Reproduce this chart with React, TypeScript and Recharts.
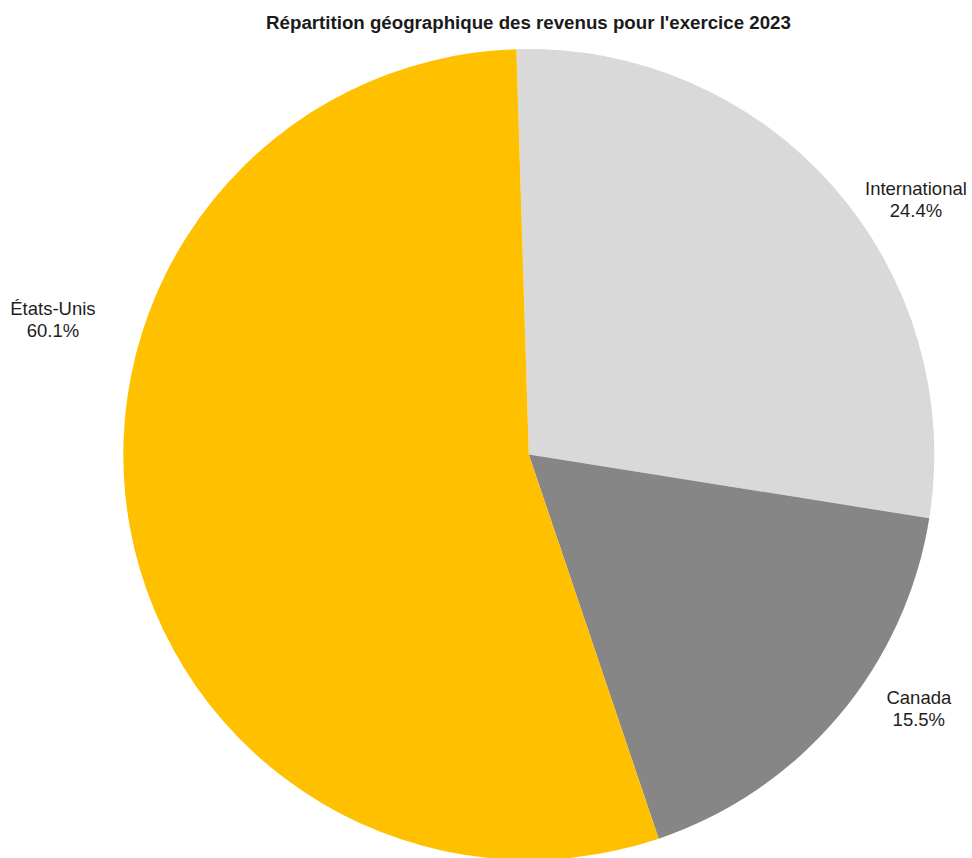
import React from 'react';
import { PieChart, Pie, Cell } from 'recharts';

// Categories, in clockwise drawing order starting just left of 12 o'clock
const regions = ['International', 'Canada', 'États-Unis'];
// Slice shares as drawn in the picture (measured from the slice angles)
const sliceShares = [28.0, 17.3, 54.7];
// Percentages printed in the labels of the picture
const labelPercents = ['24.4%', '15.5%', '60.1%'];
const colors = ['#D9D9D9', '#868686', '#FFC000'];
const title = "Répartition géographique des revenus pour l'exercice 2023";

const data = regions.map((name, i) => ({ name, value: sliceShares[i], pct: labelPercents[i] }));

const W = 972;
const H = 858;
const CX = 528.8;
const CY = 454.5;
const R = 405.5;
const START = 91.76;
const LABEL_FONT = 18.5;
const FONT = "'Liberation Sans', Arial, sans-serif";
// label layout relative to the slice mid-angle: angular turn (deg, clockwise) and distance beyond the rim (px)
const labelLayout: Record<string, { turn: number; out: number }> = {
  International: { turn: 8.0, out: 58 },
  Canada: { turn: -7.1, out: 60 },
  'États-Unis': { turn: 26.0, out: 89 },
};

const renderLabel = (props: any) => {
  const { cx, cy, midAngle, outerRadius, index } = props;
  const name = regions[index];
  const pct = labelPercents[index];
  const lay = labelLayout[name] || { turn: 0, out: 40 };
  const a = ((midAngle - lay.turn) * Math.PI) / 180;
  const rr = outerRadius + lay.out;
  const x = cx + rr * Math.cos(a);
  const y = cy - rr * Math.sin(a);
  return (
    <text key={`lbl-${index}`} x={x} y={y} textAnchor="middle" fontFamily={FONT} fontSize={LABEL_FONT} fill="#1e1e1e">
      <tspan x={x} y={y - 5}>{name}</tspan>
      <tspan x={x} y={y + 17}>{pct}</tspan>
    </text>
  );
};

export default function App() {
  return (
    <div style={{ position: 'absolute', left: 0, top: 0, width: W, height: H, background: '#fff', overflow: 'hidden' }}>
      <PieChart width={W} height={H} margin={{ top: 0, right: 0, bottom: 0, left: 0 }}>
        <Pie
          data={data}
          dataKey="value"
          nameKey="name"
          cx={CX}
          cy={CY}
          outerRadius={R}
          startAngle={START}
          endAngle={START - 360}
          stroke="none"
          isAnimationActive={false}
          label={renderLabel}
          labelLine={false}
        >
          {data.map((d, i) => (
            <Cell key={d.name} fill={colors[i]} />
          ))}
        </Pie>
      </PieChart>
      <svg width={W} height={40} style={{ position: 'absolute', left: 0, top: 0 }}>
        <text x={528.5} y={28.5} textAnchor="middle" fontFamily={FONT} fontWeight="bold" fontSize={18.7} fill="#1a1a1a">
          {title}
        </text>
      </svg>
    </div>
  );
}
